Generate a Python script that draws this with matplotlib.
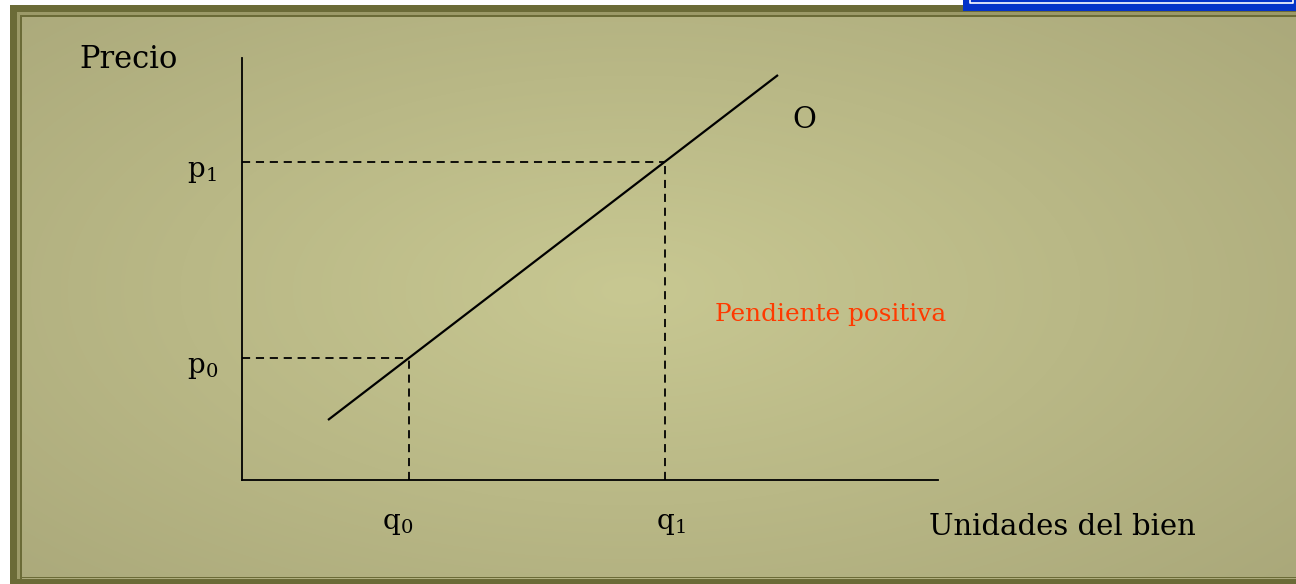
import numpy as np
import matplotlib
matplotlib.use("Agg")
import matplotlib.pyplot as plt
from matplotlib.patches import Rectangle

# Supply curve sketch: quantities, prices and the curve's end points
q_vals = [167, 423]          # q0, q1
p_vals = [122, 318]          # p0, p1
curve_q = [86, 536]          # supply line O, start/end quantity
curve_p = [60, 405]          # supply line O, start/end price
q_labels = ["0", "1"]
p_labels = ["0", "1"]

SERIF = "DejaVu Serif"
plt.rcParams["mathtext.fontset"] = "dejavuserif"

W, H = 1296, 584
fig = plt.figure(figsize=(W / 100, H / 100), dpi=100)
fig.patch.set_facecolor("white")

# Page layer in pixel coordinates (slide background and frame)
bg = fig.add_axes([0, 0, 1, 1])
bg.set_xlim(0, W)
bg.set_ylim(H, 0)
bg.axis("off")

yy, xx = np.mgrid[0:H, 0:W]
r = np.sqrt(((xx - 630) / 900.0) ** 2 + ((yy - 290) / 430.0) ** 2)
r = np.clip(r, 0, 1)
c_in = np.array([200, 200, 146]) / 255.0
c_out = np.array([170, 168, 122]) / 255.0
img = c_in[None, None, :] * (1 - r[..., None]) + c_out[None, None, :] * r[..., None]
bg.imshow(img, extent=(0, W, H, 0), zorder=0, interpolation="bilinear")

# white margin on the left and top
bg.add_patch(Rectangle((0, 0), 10, H, color="white", zorder=1, lw=0))
bg.add_patch(Rectangle((0, 0), W, 5, color="white", zorder=1, lw=0))
bg.text(12, 552, "or", ha="right", va="center", fontsize=9, color="#555555", zorder=0.5)
bg.text(12, 572, "d", ha="right", va="center", fontsize=9, color="#555555", zorder=0.5)

dark = "#6b6b37"
light = "#9c9a68"
# outer frame bands
bg.add_patch(Rectangle((10, 5), W, 7, color=dark, zorder=2, lw=0))
bg.add_patch(Rectangle((10, 5), 7, H, color=dark, zorder=2, lw=0))
bg.add_patch(Rectangle((10, 579), W, 6, color=dark, zorder=2, lw=0))
bg.add_patch(Rectangle((17, 12), W, 3, color=light, zorder=2, lw=0))
bg.add_patch(Rectangle((17, 12), 3, 567, color=light, zorder=2, lw=0))
bg.add_patch(Rectangle((20, 15), W, 1.6, color=dark, zorder=2, lw=0))
bg.add_patch(Rectangle((20, 15), 1.6, 564, color=dark, zorder=2, lw=0))
bg.add_patch(Rectangle((20, 576.5), W, 1.6, color=dark, zorder=2, lw=0))

# blue box peeking in at the top right
bg.add_patch(Rectangle((963, -1), W - 963 + 1, 12, color="#0433c8", zorder=3, lw=0))
bg.plot([970, 970, 1293, 1293], [-1, 2.5, 2.5, -1], color="white", lw=1.2, zorder=4)

# Chart axes
x0, x1, y0, y1 = 242, 938, 58, 480
ax = fig.add_axes([x0 / W, 1 - y1 / H, (x1 - x0) / W, (y1 - y0) / H])
ax.set_xlim(0, x1 - x0)
ax.set_ylim(0, y1 - y0)
ax.patch.set_alpha(0)
for s in ("top", "right"):
    ax.spines[s].set_visible(False)
for s in ("left", "bottom"):
    ax.spines[s].set_linewidth(1.3)
    ax.spines[s].set_color("black")
ax.set_xticks([])
ax.set_yticks([])

ax.plot(curve_q, curve_p, color="black", lw=1.6, solid_capstyle="butt")

dash = (0, (4.5, 3.2))
for q, p in zip(q_vals, p_vals):
    ax.plot([0, q], [p, p], color="black", lw=1.3, linestyle=dash)
    ax.plot([q, q], [0, p], color="black", lw=1.3, linestyle=dash)

for q, lab in zip(q_vals, q_labels):
    ax.text(q - 27 if lab == "0" else q - 9, -43, r"$\mathrm{q}_{%s}$" % lab,
            fontsize=20, ha="left", va="center", clip_on=False)
for p, lab in zip(p_vals, p_labels):
    ax.text(-55, p - 9, r"$\mathrm{p}_{%s}$" % lab,
            fontsize=20, ha="left", va="center", clip_on=False)

ax.text(550, 360, "O", fontsize=21, family=SERIF, ha="left", va="center")
ax.text(473, 165, "Pendiente positiva", fontsize=17.8, family=SERIF,
        color="#ff3a00", ha="left", va="center")

fig.text(79 / W, 1 - 59 / H, "Precio", fontsize=22, family=SERIF,
         ha="left", va="center")
fig.text(929 / W, 1 - 527 / H, "Unidades del bien", fontsize=21, family=SERIF,
         ha="left", va="center")

fig.savefig("out.png", dpi=100)
